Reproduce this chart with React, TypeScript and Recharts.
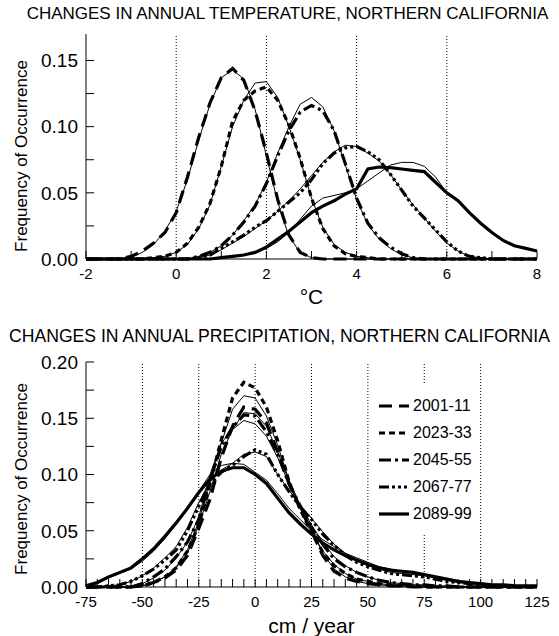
import { LineChart, Line, XAxis, YAxis, ReferenceLine, Legend } from "recharts";

const FONT = '"Liberation Sans", Arial, Helvetica, sans-serif';

// ---- temperature panel (°C), 0.25 bins ----
const tempX = [-2, -1.75, -1.5, -1.25, -1, -0.75, -0.5, -0.25, 0, 0.25, 0.5, 0.75, 1, 1.25, 1.5, 1.75, 2, 2.25, 2.5, 2.75, 3, 3.25, 3.5, 3.75, 4, 4.25, 4.5, 4.75, 5, 5.25, 5.5, 5.75, 6, 6.25, 6.5, 6.75, 7, 7.25, 7.5, 7.75, 8];
const temp2001 = [0, 0, 0, 0, 0.002, 0.006, 0.012, 0.02, 0.035, 0.062, 0.092, 0.118, 0.137, 0.144, 0.135, 0.112, 0.08, 0.045, 0.018, 0.005, 0.001, 0, 0, 0, 0, 0, 0, 0, 0, 0, 0, 0, 0, 0, 0, 0, 0, 0, 0, 0, 0];
const temp2023 = [0, 0, 0, 0, 0, 0, 0.001, 0.002, 0.005, 0.012, 0.024, 0.042, 0.07, 0.104, 0.12, 0.127, 0.13, 0.12, 0.101, 0.076, 0.046, 0.023, 0.01, 0.004, 0.002, 0.001, 0, 0, 0, 0, 0, 0, 0, 0, 0, 0, 0, 0, 0, 0, 0];
const temp2045 = [0, 0, 0, 0, 0, 0, 0, 0, 0, 0, 0.002, 0.005, 0.01, 0.018, 0.028, 0.04, 0.057, 0.078, 0.097, 0.111, 0.116, 0.112, 0.097, 0.072, 0.046, 0.027, 0.016, 0.009, 0.004, 0.001, 0, 0, 0, 0, 0, 0, 0, 0, 0, 0, 0];
const temp2067 = [0, 0, 0, 0, 0, 0, 0, 0, 0, 0, 0.001, 0.003, 0.008, 0.013, 0.018, 0.024, 0.029, 0.036, 0.043, 0.05, 0.06, 0.072, 0.08, 0.084, 0.085, 0.081, 0.075, 0.064, 0.052, 0.04, 0.031, 0.022, 0.013, 0.006, 0.002, 0.001, 0, 0, 0, 0, 0];
const temp2089 = [0, 0, 0, 0, 0, 0, 0, 0, 0, 0, 0, 0, 0.001, 0.002, 0.003, 0.005, 0.009, 0.015, 0.021, 0.028, 0.035, 0.04, 0.044, 0.049, 0.053, 0.068, 0.0695, 0.069, 0.068, 0.067, 0.066, 0.058, 0.05, 0.044, 0.035, 0.027, 0.02, 0.014, 0.01, 0.008, 0.006];
// thin companion curves
const temp2001t = [0, 0, 0, 0, 0.001, 0.005, 0.011, 0.021, 0.036, 0.06, 0.09, 0.117, 0.137, 0.143, 0.136, 0.113, 0.078, 0.043, 0.017, 0.005, 0.001, 0, 0, 0, 0, 0, 0, 0, 0, 0, 0, 0, 0, 0, 0, 0, 0, 0, 0, 0, 0];
const temp2023t = [0, 0, 0, 0, 0, 0, 0.001, 0.002, 0.005, 0.011, 0.023, 0.041, 0.07, 0.1, 0.12, 0.133, 0.134, 0.122, 0.1, 0.075, 0.046, 0.024, 0.011, 0.005, 0.002, 0.001, 0, 0, 0, 0, 0, 0, 0, 0, 0, 0, 0, 0, 0, 0, 0];
const temp2045t = [0, 0, 0, 0, 0, 0, 0, 0, 0, 0, 0.002, 0.005, 0.01, 0.018, 0.029, 0.041, 0.058, 0.08, 0.1, 0.117, 0.122, 0.115, 0.097, 0.071, 0.045, 0.026, 0.015, 0.008, 0.003, 0.001, 0, 0, 0, 0, 0, 0, 0, 0, 0, 0, 0];
const temp2067t = [0, 0, 0, 0, 0, 0, 0, 0, 0, 0, 0.001, 0.003, 0.007, 0.012, 0.017, 0.023, 0.029, 0.036, 0.044, 0.053, 0.063, 0.073, 0.081, 0.086, 0.085, 0.08, 0.074, 0.064, 0.052, 0.041, 0.031, 0.021, 0.012, 0.006, 0.002, 0.001, 0, 0, 0, 0, 0];
const temp2089t = [0, 0, 0, 0, 0, 0, 0, 0, 0, 0, 0, 0, 0.001, 0.002, 0.003, 0.005, 0.008, 0.013, 0.02, 0.03, 0.04, 0.046, 0.048, 0.05, 0.053, 0.059, 0.065, 0.071, 0.073, 0.073, 0.07, 0.062, 0.05, 0.043, 0.035, 0.027, 0.02, 0.014, 0.01, 0.008, 0.006];
const tempTicksX = [-2, -1, 0, 1, 2, 3, 4, 5, 6, 7, 8];
const tempLabelsX = [-2, 0, 2, 4, 6, 8];
const tempTicksY = [0, 0.025, 0.05, 0.075, 0.1, 0.125, 0.15];
const tempLabelsY = [0, 0.05, 0.1, 0.15];
const tempGrid = [0, 2, 4, 6];

// ---- precipitation panel (cm / year), 5 cm bins ----
const precX = [-75, -70, -65, -60, -55, -50, -45, -40, -35, -30, -25, -20, -15, -10, -5, 0, 5, 10, 15, 20, 25, 30, 35, 40, 45, 50, 55, 60, 65, 70, 75, 80, 85, 90, 95, 100, 105, 110, 115, 120, 125];
const prec2001 = [0, 0, 0, 0, 0, 0.001, 0.004, 0.008, 0.015, 0.028, 0.052, 0.078, 0.115, 0.143, 0.16, 0.158, 0.146, 0.12, 0.092, 0.07, 0.05, 0.028, 0.014, 0.008, 0.005, 0.003, 0.002, 0.001, 0.001, 0, 0, 0, 0, 0, 0, 0, 0, 0, 0, 0, 0];
const prec2023 = [0, 0, 0, 0, 0, 0.001, 0.004, 0.009, 0.017, 0.032, 0.055, 0.092, 0.131, 0.168, 0.182, 0.177, 0.16, 0.13, 0.094, 0.069, 0.048, 0.031, 0.019, 0.012, 0.007, 0.005, 0.003, 0.002, 0.001, 0.001, 0, 0, 0, 0, 0, 0, 0, 0, 0, 0, 0];
const prec2045 = [0, 0, 0, 0, 0, 0.003, 0.009, 0.016, 0.027, 0.04, 0.06, 0.095, 0.125, 0.142, 0.153, 0.152, 0.138, 0.118, 0.092, 0.072, 0.053, 0.038, 0.025, 0.018, 0.013, 0.009, 0.006, 0.004, 0.003, 0.002, 0.002, 0.001, 0.001, 0, 0, 0, 0, 0, 0, 0, 0];
const prec2067 = [0, 0, 0.001, 0.002, 0.005, 0.01, 0.016, 0.024, 0.033, 0.05, 0.072, 0.092, 0.102, 0.108, 0.116, 0.122, 0.118, 0.1, 0.085, 0.071, 0.06, 0.047, 0.037, 0.028, 0.022, 0.018, 0.015, 0.012, 0.011, 0.01, 0.009, 0.007, 0.005, 0.004, 0.003, 0.002, 0.001, 0.001, 0, 0, 0];
const prec2089 = [0.001, 0.004, 0.009, 0.013, 0.017, 0.025, 0.034, 0.045, 0.057, 0.07, 0.084, 0.096, 0.103, 0.106, 0.106, 0.1, 0.092, 0.079, 0.066, 0.056, 0.047, 0.039, 0.033, 0.028, 0.024, 0.02, 0.017, 0.015, 0.014, 0.013, 0.011, 0.009, 0.007, 0.005, 0.004, 0.003, 0.002, 0.002, 0.001, 0.001, 0.001];
const prec2001t = [0, 0, 0, 0, 0, 0.001, 0.004, 0.009, 0.017, 0.03, 0.055, 0.085, 0.118, 0.14, 0.155, 0.154, 0.143, 0.12, 0.094, 0.072, 0.051, 0.03, 0.016, 0.009, 0.005, 0.003, 0.002, 0.001, 0.001, 0, 0, 0, 0, 0, 0, 0, 0, 0, 0, 0, 0];
const prec2023t = [0, 0, 0, 0, 0, 0.001, 0.004, 0.009, 0.018, 0.033, 0.058, 0.095, 0.128, 0.158, 0.17, 0.168, 0.152, 0.126, 0.095, 0.07, 0.049, 0.032, 0.02, 0.012, 0.007, 0.005, 0.003, 0.002, 0.001, 0.001, 0, 0, 0, 0, 0, 0, 0, 0, 0, 0, 0];
const prec2045t = [0, 0, 0, 0, 0, 0.003, 0.008, 0.015, 0.026, 0.04, 0.062, 0.1, 0.128, 0.14, 0.148, 0.145, 0.134, 0.115, 0.092, 0.073, 0.055, 0.04, 0.027, 0.019, 0.013, 0.009, 0.006, 0.004, 0.003, 0.002, 0.002, 0.001, 0.001, 0, 0, 0, 0, 0, 0, 0, 0];
const prec2067t = [0, 0, 0.001, 0.002, 0.005, 0.01, 0.017, 0.026, 0.036, 0.053, 0.075, 0.094, 0.104, 0.11, 0.118, 0.12, 0.116, 0.1, 0.086, 0.073, 0.061, 0.049, 0.038, 0.03, 0.024, 0.019, 0.016, 0.013, 0.012, 0.011, 0.01, 0.008, 0.006, 0.004, 0.003, 0.002, 0.001, 0.001, 0, 0, 0];
const prec2089t = [0.001, 0.003, 0.008, 0.012, 0.016, 0.023, 0.032, 0.043, 0.056, 0.07, 0.085, 0.1, 0.108, 0.11, 0.109, 0.102, 0.095, 0.083, 0.07, 0.06, 0.05, 0.042, 0.036, 0.03, 0.026, 0.022, 0.018, 0.016, 0.014, 0.013, 0.011, 0.009, 0.007, 0.005, 0.004, 0.003, 0.002, 0.002, 0.001, 0.001, 0.001];
const precTicksX = [-75, -70, -65, -60, -55, -50, -45, -40, -35, -30, -25, -20, -15, -10, -5, 0, 5, 10, 15, 20, 25, 30, 35, 40, 45, 50, 55, 60, 65, 70, 75, 80, 85, 90, 95, 100, 105, 110, 115, 120, 125];
const precLabelsX = [-75, -50, -25, 0, 25, 50, 75, 100, 125];
const precTicksY = [0, 0.025, 0.05, 0.075, 0.1, 0.125, 0.15, 0.175, 0.2];
const precLabelsY = [0, 0.05, 0.1, 0.15, 0.2];
const precGrid = [-50, -25, 0, 25, 50, 75, 100];

const periods = ["2001-11", "2023-33", "2045-55", "2067-77", "2089-99"];
const dashes = ["13 7", "6 4", "12 4 3 4", "10 3 3 3 3 3 3 3", ""];

const PLOT_LEFT = 86;
const PLOT_RIGHT = 537;
const TICK = 8;

function buildRows(xs: number[], thick: number[][], thin: number[][]) {
  return xs.map((x, i) => {
    const row: Record<string, number> = { x };
    thick.forEach((s, k) => (row[`s${k}`] = s[i]));
    thin.forEach((s, k) => (row[`t${k}`] = s[i]));
    return row;
  });
}

const tempRows = buildRows(tempX, [temp2001, temp2023, temp2045, temp2067, temp2089], [temp2001t, temp2023t, temp2045t, temp2067t, temp2089t]);
const precRows = buildRows(precX, [prec2001, prec2023, prec2045, prec2067, prec2089], [prec2001t, prec2023t, prec2045t, prec2067t, prec2089t]);

const near = (list: number[], v: number) => list.some((l) => Math.abs(l - v) < 1e-9);

function LegendBox() {
  return (
    <div style={{ background: "#fff", width: 104, height: 150, paddingTop: 9, boxSizing: "border-box", fontFamily: FONT }}>
      {periods.map((p, k) => (
        <div key={p} style={{ height: 27, display: "flex", alignItems: "center" }}>
          <svg width={30} height={10} style={{ marginLeft: 7, marginRight: 4 }}>
            <line x1={0} y1={5} x2={30} y2={5} stroke="#000" strokeWidth={3.2} strokeDasharray={dashes[k] || undefined} />
          </svg>
          <span style={{ fontSize: 16, color: "#000" }}>{p}</span>
        </div>
      ))}
    </div>
  );
}

type PanelProps = {
  rows: Record<string, number>[];
  height: number;
  plotTop: number;
  plotBottom: number;
  xDomain: [number, number];
  yDomain: [number, number];
  xTicks: number[];
  xLabels: number[];
  yTicks: number[];
  yLabels: number[];
  grid: number[];
  xTitle: string;
  xTitleY: number;
  yTitleY: number;
  legend?: boolean;
};

function Panel(p: PanelProps) {
  const axisStyle = { stroke: "#000", strokeWidth: 1 };

  // inward ticks, drawn from the tick coordinate the axis hands over
  const bottomTick = (t: any) => (
    <g>
      <line x1={t.x} x2={t.x} y1={p.plotBottom} y2={p.plotBottom - TICK} stroke="#000" />
      {near(p.xLabels, t.payload.value) && (
        <text x={t.x} y={p.plotBottom + 9} dy="0.72em" textAnchor="middle" fontSize={15} fontFamily={FONT} fill="#000">
          {String(t.payload.value)}
        </text>
      )}
    </g>
  );
  const topTick = (t: any) => <line x1={t.x} x2={t.x} y1={p.plotTop} y2={p.plotTop + TICK} stroke="#000" />;
  const leftTick = (t: any) => (
    <g>
      <line x1={PLOT_LEFT} x2={PLOT_LEFT + TICK} y1={t.y} y2={t.y} stroke="#000" />
      {near(p.yLabels, t.payload.value) && (
        <text x={PLOT_LEFT - 8} y={t.y} dy="0.36em" textAnchor="end" fontSize={19} fontFamily={FONT} fill="#000">
          {t.payload.value.toFixed(2)}
        </text>
      )}
    </g>
  );
  const rightTick = (t: any) => <line x1={PLOT_RIGHT} x2={PLOT_RIGHT - TICK} y1={t.y} y2={t.y} stroke="#000" />;

  return (
    <LineChart width={559} height={p.height} data={p.rows} margin={{ top: p.plotTop, right: 559 - PLOT_RIGHT, bottom: 0, left: 0 }}>
      <XAxis
        xAxisId="b"
        dataKey="x"
        type="number"
        domain={p.xDomain}
        ticks={p.xTicks}
        interval={0}
        tickLine={false}
        tick={bottomTick}
        height={p.height - p.plotBottom}
        axisLine={axisStyle}
        label={() => (
          <text x={(PLOT_LEFT + PLOT_RIGHT) / 2} y={p.xTitleY} textAnchor="middle" dominantBaseline="central" fontSize={21} fontFamily={FONT} fill="#000">
            {p.xTitle}
          </text>
        )}
      />
      <XAxis xAxisId="t" orientation="top" dataKey="x" type="number" domain={p.xDomain} ticks={p.xTicks} interval={0} tickLine={false} tick={topTick} height={0} axisLine={axisStyle} />
      <YAxis
        yAxisId="l"
        type="number"
        domain={p.yDomain}
        ticks={p.yTicks}
        interval={0}
        tickLine={false}
        tick={leftTick}
        width={PLOT_LEFT}
        axisLine={axisStyle}
        label={() => (
          <text x={21} y={p.yTitleY} transform={`rotate(-90 21 ${p.yTitleY})`} textAnchor="middle" dominantBaseline="central" fontSize={17} fontFamily={FONT} fill="#000">
            Frequency of Occurrence
          </text>
        )}
      />
      <YAxis yAxisId="r" orientation="right" type="number" domain={p.yDomain} ticks={p.yTicks} interval={0} tickLine={false} tick={rightTick} width={0} axisLine={axisStyle} />
      {p.grid.map((g) => (
        <ReferenceLine key={g} xAxisId="b" yAxisId="l" x={g} stroke="#000" strokeWidth={1} strokeDasharray="1 2" />
      ))}
      {periods.map((name, k) => (
        <Line key={`t${k}`} xAxisId="b" yAxisId="l" dataKey={`t${k}`} type="linear" stroke="#000" strokeWidth={1} dot={false} isAnimationActive={false} legendType="none" />
      ))}
      {periods.map((name, k) => (
        <Line key={`s${k}`} xAxisId="b" yAxisId="l" dataKey={`s${k}`} name={name} type="linear" stroke="#000" strokeWidth={3.2} strokeDasharray={dashes[k] || undefined} dot={false} isAnimationActive={false} />
      ))}
      {p.legend && (
        <Legend layout="vertical" align="center" verticalAlign="middle" wrapperStyle={{ left: 372, top: 73, width: 104, height: 150 }} content={() => <LegendBox />} />
      )}
    </LineChart>
  );
}

export default function App() {
  const titleStyle = { position: "absolute" as const, left: 0, width: 559, textAlign: "center" as const, fontFamily: FONT, lineHeight: "20px", color: "#000", whiteSpace: "nowrap" as const };
  return (
    <div style={{ position: "absolute", left: 0, top: 0, width: 559, height: 636, background: "#fff", overflow: "hidden" }}>
      <div style={{ ...titleStyle, top: 4, fontSize: 17, paddingLeft: 16, boxSizing: "border-box" }}>CHANGES IN ANNUAL TEMPERATURE, NORTHERN CALIFORNIA</div>
      <div style={{ position: "absolute", left: 0, top: 0 }}>
        <Panel rows={tempRows} height={310} plotTop={34} plotBottom={259} xDomain={[-2, 8]} yDomain={[0, 0.17]} xTicks={tempTicksX} xLabels={tempLabelsX} yTicks={tempTicksY} yLabels={tempLabelsY} grid={tempGrid} xTitle="°C" xTitleY={296} yTitleY={156} />
      </div>
      <div style={{ ...titleStyle, top: 326, fontSize: 17.6 }}>CHANGES IN ANNUAL PRECIPITATION, NORTHERN CALIFORNIA</div>
      <div style={{ position: "absolute", left: 0, top: 310 }}>
        <Panel rows={precRows} height={326} plotTop={52} plotBottom={277} xDomain={[-75, 125]} yDomain={[0, 0.2]} xTicks={precTicksX} xLabels={precLabelsX} yTicks={precTicksY} yLabels={precLabelsY} grid={precGrid} xTitle="cm / year" xTitleY={315} yTitleY={169} legend />
      </div>
    </div>
  );
}
